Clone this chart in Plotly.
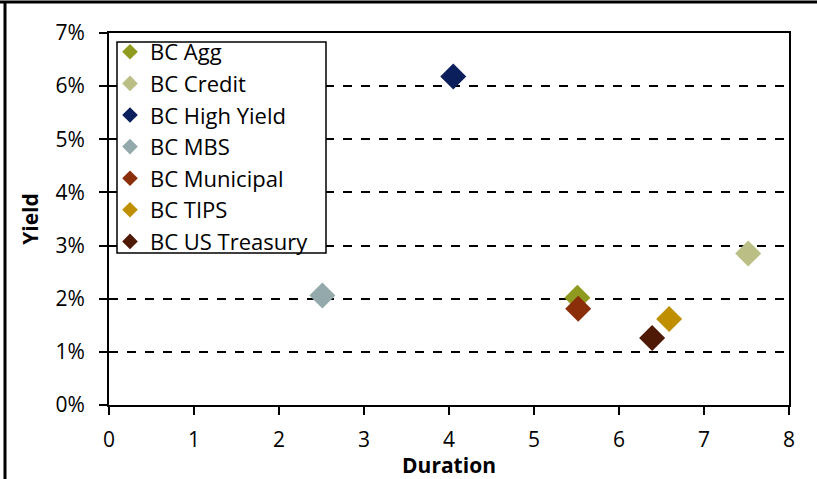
import plotly.graph_objects as go

names = ["BC Agg", "BC Credit", "BC High Yield", "BC MBS", "BC Municipal", "BC TIPS", "BC US Treasury"]
duration = [5.51, 7.52, 4.05, 2.51, 5.52, 6.59, 6.39]
yield_pct = [0.0202, 0.0285, 0.0618, 0.0206, 0.0181, 0.0162, 0.0126]
colors = ["#8E9B1E", "#BBBF86", "#0A1F5C", "#94A9AB", "#8B2E0A", "#BF8F00", "#4E1A06"]

x_ticks = [0, 1, 2, 3, 4, 5, 6, 7, 8]
y_ticks = [0, 0.01, 0.02, 0.03, 0.04, 0.05, 0.06, 0.07]
y_tick_labels = ["0%", "1%", "2%", "3%", "4%", "5%", "6%", "7%"]

FONT = "Open Sans"

fig = go.Figure()
for i, n in enumerate(names):
    fig.add_trace(go.Scatter(
        x=[duration[i]], y=[yield_pct[i]], mode="markers", name=n,
        legendgroup=n,
        marker=dict(symbol="diamond", size=20, color=colors[i], line=dict(width=0)),
    ))

L, R, T, B = 109, 28, 33, 74
W, H = 817, 479
pw = W - L - R
ph = H - T - B


def px_x(p):
    return (p - L) / pw


def px_y(p):
    return 1 - (p - T) / ph


fig.update_layout(
    width=W, height=H,
    margin=dict(l=L, r=R, t=T, b=B),
    paper_bgcolor="white", plot_bgcolor="white",
    font=dict(family=FONT, size=21, color="black"),
    showlegend=True,
    legend=dict(
        x=px_x(110), y=px_y(31), xanchor="left", yanchor="top",
        borderwidth=0, bgcolor="rgba(0,0,0,0)",
        font=dict(family=FONT, size=22, color="black"),
        itemsizing="constant", tracegroupgap=0, itemwidth=30,
    ),
    xaxis=dict(
        range=[0, 8], tickvals=x_ticks, ticks="outside", ticklen=8, tickcolor="black",
        tickwidth=1.5,
        showline=True, linecolor="black", linewidth=2, mirror=True, showgrid=False,
        zeroline=False, ticklabelstandoff=7,
        title=dict(text="<b>Duration</b>", font=dict(family=FONT, size=21), standoff=0),
        tickfont=dict(family=FONT, size=21),
    ),
    yaxis=dict(
        range=[0, 0.07], tickvals=y_ticks, ticktext=y_tick_labels, ticks="outside",
        ticklen=8, tickcolor="black", tickwidth=1.5,
        showline=True, linecolor="black", linewidth=2, mirror=True,
        showgrid=True, gridcolor="black", griddash="dash", gridwidth=1.5,
        zeroline=False, ticklabelstandoff=10,
        title=dict(text="<b>Yield</b>", font=dict(family=FONT, size=21), standoff=11),
        tickfont=dict(family=FONT, size=21),
    ),
    shapes=[
        dict(type="rect", xref="paper", yref="paper", layer="above",
             x0=px_x(117), x1=px_x(326), y0=px_y(42), y1=px_y(253),
             fillcolor="white", line=dict(color="black", width=1.5)),
        dict(type="line", xref="paper", yref="paper",
             x0=px_x(0), x1=px_x(W), y0=px_y(2), y1=px_y(2),
             line=dict(color="black", width=3)),
        dict(type="line", xref="paper", yref="paper",
             x0=px_x(5), x1=px_x(5), y0=px_y(2), y1=px_y(H),
             line=dict(color="black", width=3)),
    ],
)

fig.write_html(
    "out.html",
    config={"displayModeBar": False},
    post_script="document.body.style.margin='0px';document.body.style.overflow='hidden';",
)
